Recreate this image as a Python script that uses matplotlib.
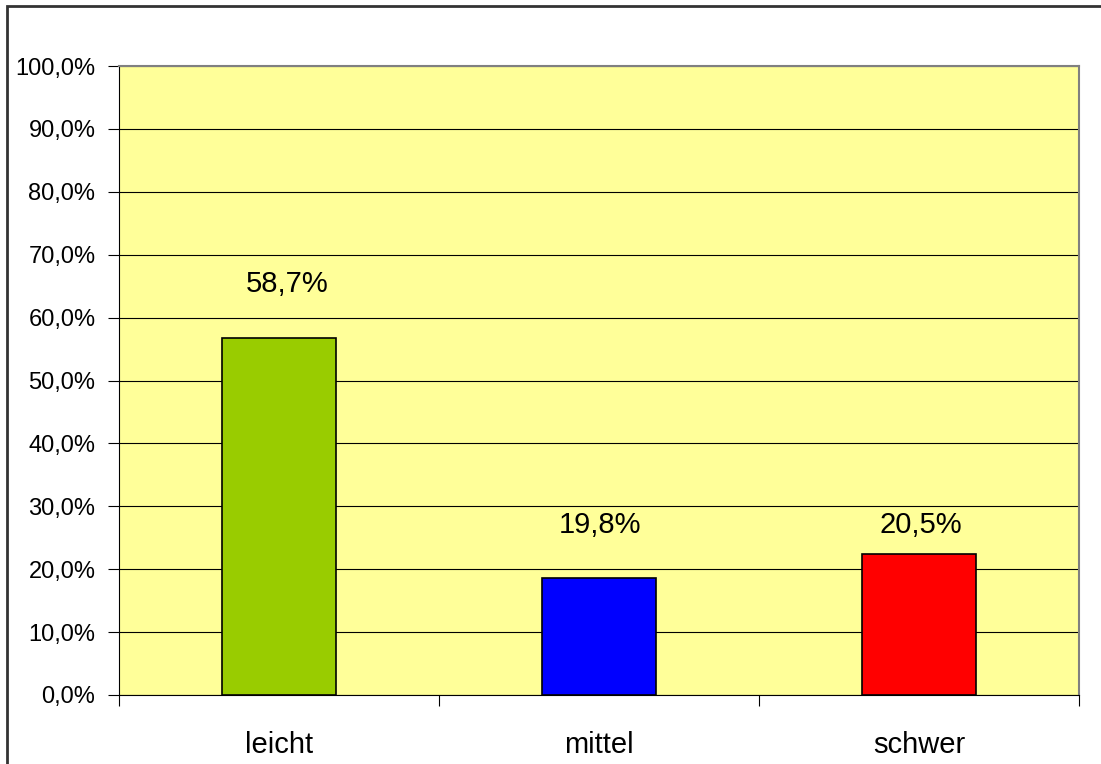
import matplotlib.pyplot as plt
from matplotlib.patches import Rectangle

plt.rcParams['font.family'] = ['Liberation Sans', 'DejaVu Sans']

kategorien = ["leicht", "mittel", "schwer"]
balken_hoehe = [56.8, 18.6, 22.4]          # heights as drawn in the picture
etiketten = ["58,7%", "19,8%", "20,5%"]    # labels as printed
etikett_pos = [65.3, 27.1, 27.1]
farben = ["#99cc00", "#0000ff", "#ff0000"]
y_ticks = [0, 10, 20, 30, 40, 50, 60, 70, 80, 90, 100]

fig = plt.figure(figsize=(11.01, 7.64), dpi=100)
fig.patches.append(Rectangle((7 / 1101, -0.1), 1.2, 1 - 6 / 764 + 0.1, transform=fig.transFigure,
                             fill=False, edgecolor="#333333", linewidth=2))
ax = fig.add_axes([119 / 1101, 1 - 695 / 764, 960 / 1101, 629 / 764])
ax.set_facecolor("#ffff99")

x = range(len(kategorien))
ax.bar(x, balken_hoehe, width=0.357, color=farben, edgecolor="black", linewidth=1.2, zorder=3)
x_versatz = [0.025, 0.003, 0.006]
for i in x:
    ax.text(i + x_versatz[i], etikett_pos[i], etiketten[i], ha="center", va="center",
            fontsize=21, zorder=4)

ax.set_xlim(-0.5, 2.5)
ax.set_ylim(0, 100)
ax.set_yticks(y_ticks)
ax.set_yticklabels([f"{v:.1f}%".replace(".", ",") for v in y_ticks], fontsize=17)
ax.yaxis.grid(True, color="black", linewidth=0.8, zorder=1)
ax.set_axisbelow(True)

ax.set_xticks([-0.5, 0.5, 1.5, 2.5])
ax.set_xticklabels([])
ax.set_xticks(list(x), minor=True)
ax.set_xticklabels(kategorien, minor=True, fontsize=21)
ax.tick_params(axis="x", which="minor", length=0, pad=26)
ax.tick_params(axis="x", which="major", length=8, direction="out", color="black")
ax.tick_params(axis="y", length=8, direction="out", color="black", pad=9)

for s in ["top", "right"]:
    ax.spines[s].set_color("#808080")
    ax.spines[s].set_linewidth(1.5)
ax.spines["left"].set_color("black")
ax.spines["bottom"].set_color("black")

fig.savefig("out.png", dpi=100)
